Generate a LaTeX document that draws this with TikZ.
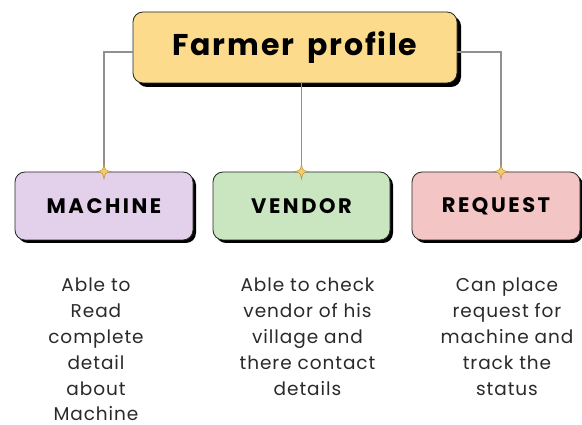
\documentclass[tikz,border=0pt]{standalone}
\usepackage{fontspec}
\setmainfont{Poppins}
\newfontfamily\titlefont[LetterSpace=6]{Poppins}
\newfontfamily\lblfont[LetterSpace=12]{Poppins}
\newfontfamily\bodyfont[LetterSpace=5]{Poppins}
\usetikzlibrary{shadows}
\definecolor{yel}{HTML}{FCDC8C}
\definecolor{lav}{HTML}{E3D0EB}
\definecolor{grn}{HTML}{C9E6C0}
\definecolor{pnk}{HTML}{F3C5C5}
\definecolor{gold}{HTML}{F5CD6A}
\definecolor{golddk}{HTML}{B8923A}
\definecolor{linegray}{HTML}{909090}
\definecolor{txt}{HTML}{2A2A2A}
\tikzset{
  box/.style={draw=black!85, line width=0.8pt, rounded corners=10pt, inner sep=0pt, text=black},
  catbox/.style={box, minimum height=68pt, font=\lblfont\bfseries\fontsize{21}{24}\selectfont,
     drop shadow={shadow xshift=3pt, shadow yshift=-3pt, opacity=1, fill=black}},
  conn/.style={draw=linegray, line width=1.1pt},
  body/.style={align=center, inner sep=0pt, text=txt, font=\bodyfont\fontsize{18.5}{25.8}\selectfont},
  sparkle/.pic={\filldraw[fill=gold, draw=golddk, line width=0.5pt]
     (0,7.5) .. controls (1.2,1.2) .. (7,0) .. controls (1.2,-1.2) .. (0,-7.5)
     .. controls (-1.2,-1.2) .. (-7,0) .. controls (-1.2,1.2) .. cycle;}
}
\begin{document}
\begin{tikzpicture}[x=1pt,y=-1pt]
\useasboundingbox (0,0) rectangle (582,425);
\fill[white] (0,0) rectangle (582,425);
\node[box, fill=yel, minimum width=324pt, minimum height=71pt,
  font=\titlefont\bfseries\fontsize{30}{34}\selectfont,
  drop shadow={shadow xshift=4pt, shadow yshift=-4pt, opacity=1, fill=black}] (farmer) at (295,47.5) {Farmer\hspace{5pt} profile};
\node[catbox, fill=lav, minimum width=178pt] (machine) at (104,206) {MACHINE};
\node[catbox, fill=grn, minimum width=177pt] (vendor) at (301.5,206) {VENDOR};
\node[catbox, fill=pnk, minimum width=168pt] (request) at (496,206) {REQUEST};
\draw[conn] ([yshift=-4.5pt]farmer.west) -| (machine.north);
\draw[conn] (farmer.south -| vendor.north) -- (vendor.north);
\draw[conn] ([yshift=-4.5pt]farmer.east) -| ([xshift=5pt]request.north);
\pic at (machine.north) {sparkle};
\pic at (vendor.north) {sparkle};
\pic at ([xshift=5pt]request.north) {sparkle};
\node[body, anchor=north] (tm) at (96,278) {Able to\\Read\\complete\\detail\\about\\Machine};
\node[body, anchor=north] (tv) at (307.5,278) {Able to check\\vendor of his\\village and\\there contact\\details};
\node[body, anchor=north] (tr) at (507,278) {Can place\\request for\\machine and\\track the\\status};
\end{tikzpicture}
\end{document}
